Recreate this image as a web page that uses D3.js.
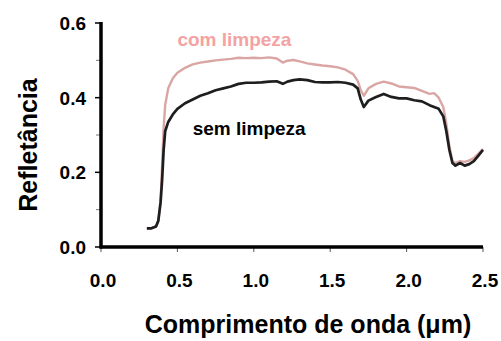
<!DOCTYPE html>
<html>
<head>
<meta charset="utf-8">
<script src="https://cdn.jsdelivr.net/npm/d3@7"></script>
<style>
  body { margin: 0; background: #fff; }
  svg text { font-family: "Liberation Sans", Arial, sans-serif; font-weight: bold; }
</style>
</head>
<body>
<div id="chart"></div>
<script>
// comprimento de onda (um), compartilhado pelas duas curvas
var wavelengths = [0.30, 0.33, 0.36, 0.375, 0.39, 0.40, 0.41, 0.42, 0.44, 0.47, 0.50, 0.55, 0.60, 0.65, 0.70, 0.75,
    0.80, 0.85, 0.90, 0.95, 1.00, 1.05, 1.10, 1.15, 1.19, 1.22, 1.26, 1.30, 1.35, 1.40, 1.45, 1.50, 1.55, 1.60,
    1.65, 1.68, 1.70, 1.72, 1.75, 1.80, 1.85, 1.90, 1.95, 2.00, 2.05, 2.10, 2.15, 2.18, 2.21, 2.24, 2.26, 2.28,
    2.30, 2.32, 2.35, 2.38, 2.41, 2.44, 2.47, 2.50];

var semLimpeza = [0.05, 0.05, 0.055, 0.07, 0.12, 0.18, 0.26, 0.31, 0.335, 0.355, 0.37, 0.385, 0.395, 0.405, 0.412, 0.42,
    0.425, 0.43, 0.437, 0.44, 0.44, 0.441, 0.443, 0.444, 0.437, 0.443, 0.447, 0.449, 0.447, 0.442, 0.441, 0.441, 0.442, 0.44,
    0.435, 0.425, 0.395, 0.375, 0.392, 0.402, 0.41, 0.402, 0.398, 0.398, 0.393, 0.39, 0.38, 0.375, 0.37, 0.35, 0.31, 0.26,
    0.225, 0.218, 0.225, 0.218, 0.222, 0.23, 0.245, 0.26];

var comLimpeza = [0.05, 0.05, 0.055, 0.07, 0.12, 0.22, 0.32, 0.38, 0.425, 0.452, 0.467, 0.48, 0.489, 0.494, 0.497, 0.50,
    0.502, 0.504, 0.507, 0.506, 0.507, 0.506, 0.508, 0.505, 0.494, 0.499, 0.501, 0.497, 0.492, 0.489, 0.486, 0.484, 0.481, 0.475,
    0.463, 0.445, 0.42, 0.405, 0.425, 0.437, 0.443, 0.438, 0.43, 0.428, 0.426, 0.418, 0.41, 0.412, 0.40, 0.375, 0.33, 0.27,
    0.23, 0.225, 0.23, 0.228, 0.232, 0.238, 0.25, 0.262];

var xTicks = [0.0, 0.5, 1.0, 1.5, 2.0, 2.5];
var yTicks = [0.0, 0.2, 0.4, 0.6];
var yMinorTicks = [0.1, 0.3, 0.5];

var W = 501, H = 341;

var x = d3.scaleLinear().domain([0, 2.5]).range([101, 483]);
var y = d3.scaleLinear().domain([0, 0.6]).range([247, 23]);

var svg = d3.select("#chart").append("svg")
    .attr("width", W)
    .attr("height", H);

var line = d3.line()
    .x(function(d) { return x(d[0]); })
    .y(function(d) { return y(d[1]); });

var pinkData = wavelengths.map(function(w, i) { return [w, comLimpeza[i]]; });
var blackData = wavelengths.map(function(w, i) { return [w, semLimpeza[i]]; });

svg.append("path")
    .datum(pinkData)
    .attr("fill", "none")
    .attr("stroke", "#d9a6a4")
    .attr("stroke-width", 2.4)
    .attr("stroke-linejoin", "round")
    .attr("d", line);

svg.append("path")
    .datum(blackData)
    .attr("fill", "none")
    .attr("stroke", "#1e1e1e")
    .attr("stroke-width", 2.7)
    .attr("stroke-linejoin", "round")
    .attr("d", line);

// eixo y
var yAxis = svg.append("g").attr("transform", "translate(" + x(0) + ",0)");
yAxis.selectAll(".minor").data(yMinorTicks).enter().append("line")
    .attr("x1", -5).attr("x2", 0)
    .attr("y1", function(d) { return y(d); }).attr("y2", function(d) { return y(d); })
    .attr("stroke", "#777").attr("stroke-width", 1);
yAxis.selectAll(".major").data(yTicks).enter().append("line")
    .attr("x1", -6).attr("x2", 0)
    .attr("y1", function(d) { return y(d); }).attr("y2", function(d) { return y(d); })
    .attr("stroke", "#000").attr("stroke-width", 1.5);
yAxis.append("line")
    .attr("x1", 0).attr("x2", 0)
    .attr("y1", y(0.6) - 1).attr("y2", y(0) + 1.5)
    .attr("stroke", "#000").attr("stroke-width", 3.5);
yAxis.selectAll("text").data(yTicks).enter().append("text")
    .attr("x", -15)
    .attr("y", function(d) { return y(d); })
    .attr("dy", "0.36em")
    .attr("text-anchor", "end")
    .style("font-size", "19px")
    .text(function(d) { return d.toFixed(1); });

// eixo x
var xAxis = svg.append("g").attr("transform", "translate(0," + y(0) + ")");
xAxis.selectAll(".tick").data(xTicks).enter().append("line")
    .attr("x1", function(d) { return x(d); }).attr("x2", function(d) { return x(d); })
    .attr("y1", 0).attr("y2", 5)
    .attr("stroke", "#555").attr("stroke-width", 1);
xAxis.append("line")
    .attr("x1", x(0) - 1.5).attr("x2", x(2.5))
    .attr("y1", 0).attr("y2", 0)
    .attr("stroke", "#000").attr("stroke-width", 3.5);
xAxis.selectAll("text").data(xTicks).enter().append("text")
    .attr("x", function(d) { return x(d) + 2; })
    .attr("y", 40)
    .attr("text-anchor", "middle")
    .style("font-size", "19px")
    .text(function(d) { return d.toFixed(1); });

// titulos
svg.append("text")
    .attr("x", 308).attr("y", 333)
    .attr("text-anchor", "middle")
    .style("font-size", "25px")
    .text("Comprimento de onda (\u03bcm)");

svg.append("text")
    .attr("transform", "translate(37,145) rotate(-90)")
    .attr("text-anchor", "middle")
    .style("font-size", "25px")
    .text("Refletância");

// rotulos das curvas
svg.append("text")
    .attr("x", x(0.5)).attr("y", y(0.539))
    .style("font-size", "19px")
    .attr("fill", "#f4a2a2")
    .text("com limpeza");

svg.append("text")
    .attr("x", x(0.6)).attr("y", y(0.30))
    .style("font-size", "19px")
    .attr("fill", "#000")
    .text("sem limpeza");
</script>
</body>
</html>
